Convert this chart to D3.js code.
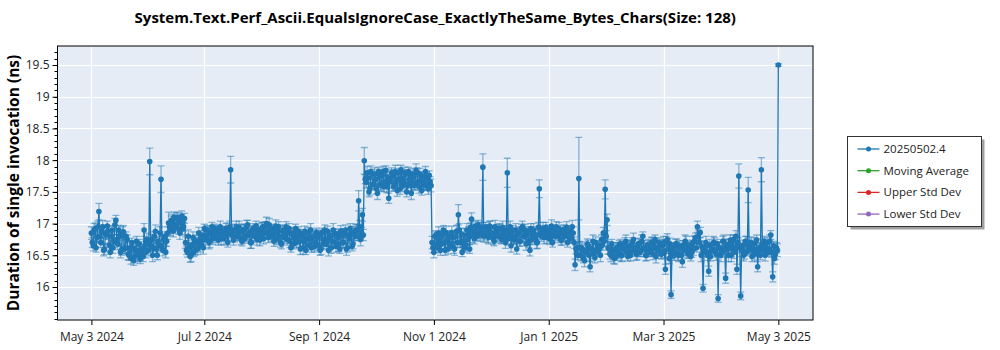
<!DOCTYPE html>
<html>
<head>
<meta charset="utf-8">
<script src="https://cdn.jsdelivr.net/npm/d3@7"></script>
<style>
  html, body { margin: 0; padding: 0; background: #ffffff; }
  svg { display: block; font-family: "Open Sans", "Noto Sans", sans-serif; }
</style>
</head>
<body>
<svg id="chart" width="1000" height="350"></svg>
<script>
// Benchmark runs: two measurements per day (morning and evening), starting May 3 2024
const chartTitle = "System.Text.Perf_Ascii.EqualsIgnoreCase_ExactlyTheSame_Bytes_Chars(Size: 128)";
const yTitle = "Duration of single invocation (ns)";
const firstDay = "2024-05-03";

// morning run: mean duration (ns), one entry per day
const durations = [
  16.85, 16.65, 16.92, 16.78, 17.19, 16.70, 16.95, 16.60, 16.82, 16.88,
  16.55, 16.90, 16.72, 17.05, 16.68, 16.80, 16.58, 16.87, 16.62, 16.75,
  16.50, 16.45, 16.62, 16.48, 16.72, 16.52, 16.44, 16.60, 16.90, 16.55,
  16.70, 17.98, 16.75, 16.62, 16.88, 16.50, 16.66, 17.70, 16.58, 16.80,
  16.72, 17.01, 16.90, 17.05, 17.10, 16.98, 17.08, 16.85, 17.12, 16.95,
  16.70, 16.55, 16.62, 16.50, 16.78, 16.58, 16.70, 16.85, 16.65, 16.75,
  16.92, 16.80, 16.88, 16.72, 16.95, 16.82, 16.78, 16.90, 16.85, 16.76,
  16.88, 16.80, 16.92, 16.84, 17.85, 16.90, 16.78, 16.95, 16.82, 16.88,
  16.72, 16.90, 16.80, 16.98, 16.85, 16.70, 16.92, 16.80, 16.75, 16.90,
  16.82, 16.95, 16.86, 17.00, 16.78, 16.90, 16.84, 16.72, 16.96, 16.88,
  16.80, 16.68, 16.90, 16.82, 16.75, 16.92, 16.62, 16.85, 16.78, 16.70,
  16.88, 16.60, 16.80, 16.72, 16.58, 16.85, 16.76, 16.62, 16.80, 16.70,
  16.66, 16.82, 16.60, 16.75, 16.90, 16.68, 16.58, 16.80, 16.72, 16.85,
  16.64, 16.78, 16.60, 16.82, 16.70, 16.90, 16.62, 16.76, 16.85, 16.68,
  16.80, 16.90, 17.36, 16.75, 17.14, 17.99, 17.65, 17.72, 17.55, 17.78,
  17.62, 17.70, 17.48, 17.75, 17.60, 17.82, 17.66, 17.58, 17.40, 17.70,
  17.76, 17.62, 17.68, 17.80, 17.55, 17.72, 17.65, 17.78, 17.60, 17.70,
  17.48, 17.74, 17.62, 17.80, 17.58, 17.68, 17.75, 17.60, 17.72, 17.55,
  17.66, 16.70, 16.55, 16.82, 16.62, 16.75, 16.68, 16.90, 16.58, 16.72,
  16.80, 16.65, 16.78, 16.60, 16.88, 17.14, 16.70, 16.55, 16.82, 16.66,
  16.75, 16.60, 17.07, 16.88, 16.96, 16.80, 16.92, 16.85, 17.89, 16.82,
  16.90, 16.78, 16.95, 16.85, 16.72, 16.88, 16.80, 16.92, 16.75, 16.86,
  16.70, 17.80, 16.82, 16.65, 16.90, 16.78, 16.60, 16.85, 16.72, 16.95,
  16.80, 16.68, 16.88, 16.58, 16.75, 16.90, 16.82, 16.70, 17.55, 16.80,
  16.92, 16.85, 16.78, 16.90, 16.82, 16.70, 16.88, 16.95, 16.80, 16.85,
  16.75, 16.90, 16.82, 16.70, 16.88, 16.78, 16.85, 16.35, 16.62, 17.71,
  16.50, 16.58, 16.42, 16.55, 16.65, 16.32, 16.60, 16.52, 16.70, 16.56,
  16.62, 16.75, 16.85, 17.54, 17.06, 16.60, 16.50, 16.58, 16.45, 16.62,
  16.55, 16.68, 16.50, 16.60, 16.72, 16.48, 16.65, 16.56, 16.75, 16.62,
  16.52, 16.68, 16.58, 16.80, 16.60, 16.50, 16.65, 16.55, 16.70, 16.62,
  16.48, 16.58, 16.65, 16.52, 16.70, 16.28, 16.75, 16.45, 15.88, 16.62,
  16.55, 16.68, 16.50, 16.62, 16.40, 16.58, 16.70, 16.52, 16.65, 16.55,
  16.60, 16.78, 16.95, 16.70, 16.50, 15.98, 16.62, 16.55, 16.25, 16.48,
  16.58, 16.70, 16.52, 15.82, 16.62, 16.55, 16.72, 16.14, 16.60, 16.68,
  16.50, 16.75, 16.62, 16.28, 17.75, 15.86, 16.65, 16.52, 16.70, 17.53,
  16.60, 16.48, 16.68, 16.55, 16.32, 16.62, 17.85, 16.58, 16.50, 16.70,
  16.60, 16.82, 16.16, 16.45, 16.62, 19.50
];

// morning run: half-width of the error bar (ns)
const errors = [
  0.10, 0.08, 0.09, 0.07, 0.13, 0.08, 0.10, 0.09, 0.07, 0.08,
  0.09, 0.07, 0.10, 0.08, 0.09, 0.07, 0.08, 0.10, 0.09, 0.07,
  0.08, 0.09, 0.07, 0.10, 0.08, 0.09, 0.07, 0.08, 0.10, 0.09,
  0.07, 0.21, 0.08, 0.09, 0.10, 0.07, 0.08, 0.21, 0.09, 0.07,
  0.08, 0.17, 0.09, 0.10, 0.08, 0.07, 0.09, 0.10, 0.08, 0.07,
  0.09, 0.08, 0.07, 0.10, 0.09, 0.08, 0.07, 0.09, 0.10, 0.08,
  0.07, 0.09, 0.08, 0.10, 0.07, 0.09, 0.08, 0.07, 0.10, 0.09,
  0.08, 0.07, 0.09, 0.10, 0.21, 0.08, 0.07, 0.09, 0.08, 0.10,
  0.07, 0.09, 0.08, 0.07, 0.10, 0.09, 0.08, 0.07, 0.09, 0.10,
  0.08, 0.07, 0.09, 0.10, 0.08, 0.07, 0.09, 0.08, 0.10, 0.07,
  0.09, 0.08, 0.07, 0.10, 0.09, 0.08, 0.07, 0.09, 0.10, 0.08,
  0.07, 0.09, 0.08, 0.10, 0.07, 0.09, 0.08, 0.07, 0.10, 0.09,
  0.08, 0.07, 0.09, 0.10, 0.08, 0.07, 0.09, 0.08, 0.10, 0.07,
  0.09, 0.08, 0.07, 0.10, 0.09, 0.08, 0.07, 0.09, 0.10, 0.08,
  0.07, 0.09, 0.16, 0.10, 0.10, 0.21, 0.09, 0.08, 0.10, 0.07,
  0.09, 0.08, 0.10, 0.07, 0.09, 0.08, 0.10, 0.09, 0.08, 0.07,
  0.09, 0.10, 0.08, 0.07, 0.09, 0.08, 0.10, 0.07, 0.09, 0.08,
  0.10, 0.07, 0.09, 0.08, 0.10, 0.09, 0.07, 0.08, 0.10, 0.09,
  0.08, 0.10, 0.09, 0.07, 0.08, 0.10, 0.09, 0.07, 0.08, 0.10,
  0.09, 0.07, 0.08, 0.10, 0.09, 0.16, 0.08, 0.07, 0.10, 0.09,
  0.08, 0.07, 0.10, 0.09, 0.08, 0.07, 0.10, 0.09, 0.21, 0.08,
  0.07, 0.10, 0.09, 0.08, 0.07, 0.10, 0.09, 0.08, 0.07, 0.10,
  0.09, 0.23, 0.08, 0.10, 0.07, 0.09, 0.08, 0.10, 0.07, 0.09,
  0.08, 0.10, 0.07, 0.09, 0.08, 0.10, 0.07, 0.09, 0.14, 0.08,
  0.10, 0.07, 0.09, 0.08, 0.10, 0.07, 0.09, 0.08, 0.10, 0.07,
  0.09, 0.08, 0.10, 0.07, 0.09, 0.08, 0.10, 0.09, 0.08, 0.65,
  0.09, 0.08, 0.10, 0.07, 0.09, 0.08, 0.10, 0.07, 0.09, 0.08,
  0.10, 0.07, 0.09, 0.15, 0.09, 0.08, 0.10, 0.07, 0.09, 0.08,
  0.10, 0.07, 0.09, 0.08, 0.10, 0.07, 0.09, 0.08, 0.10, 0.07,
  0.09, 0.08, 0.10, 0.07, 0.09, 0.08, 0.10, 0.07, 0.09, 0.08,
  0.10, 0.07, 0.09, 0.08, 0.10, 0.08, 0.09, 0.08, 0.06, 0.07,
  0.09, 0.08, 0.10, 0.07, 0.09, 0.08, 0.10, 0.07, 0.09, 0.08,
  0.10, 0.07, 0.09, 0.08, 0.10, 0.06, 0.09, 0.08, 0.08, 0.07,
  0.09, 0.08, 0.10, 0.06, 0.09, 0.08, 0.10, 0.08, 0.09, 0.08,
  0.10, 0.07, 0.09, 0.08, 0.19, 0.06, 0.09, 0.08, 0.10, 0.20,
  0.09, 0.08, 0.10, 0.07, 0.08, 0.08, 0.19, 0.07, 0.09, 0.08,
  0.10, 0.07, 0.08, 0.09, 0.08, 0.02
];

// evening run: mean duration (ns), one entry per day
const durationsB = [
  16.70, 16.90, 16.62, 16.95, 16.80, 16.88, 16.58, 16.84, 16.96, 16.66,
  16.80, 16.62, 16.98, 16.75, 16.90, 16.55, 16.85, 16.60, 16.80, 16.52,
  16.62, 16.70, 16.42, 16.58, 16.50, 16.68, 16.55, 16.48, 16.65, 16.75,
  16.58, 16.65, 16.50, 16.80, 16.60, 16.72, 16.85, 16.62, 16.75, 16.55,
  16.85, 16.95, 17.05, 16.88, 16.95, 17.10, 16.90, 17.02, 16.92, 17.08,
  16.58, 16.80, 16.48, 16.66, 16.55, 16.72, 16.60, 16.70, 16.82, 16.62,
  16.75, 16.90, 16.70, 16.85, 16.76, 16.92, 16.86, 16.74, 16.95, 16.88,
  16.76, 16.92, 16.70, 16.95, 16.82, 16.74, 16.90, 16.80, 16.94, 16.75,
  16.90, 16.76, 16.95, 16.82, 16.70, 16.90, 16.80, 16.96, 16.86, 16.74,
  16.92, 16.76, 16.96, 16.84, 16.98, 16.80, 16.92, 16.86, 16.76, 16.95,
  16.70, 16.88, 16.78, 16.95, 16.86, 16.72, 16.84, 16.68, 16.92, 16.80,
  16.72, 16.84, 16.62, 16.88, 16.76, 16.66, 16.90, 16.78, 16.64, 16.86,
  16.80, 16.58, 16.86, 16.68, 16.74, 16.88, 16.82, 16.62, 16.90, 16.70,
  16.84, 16.66, 16.88, 16.70, 16.85, 16.60, 16.82, 16.92, 16.64, 16.86,
  16.90, 16.80, 16.95, 16.86, 16.82, 17.70, 17.80, 17.50, 17.82, 17.62,
  17.78, 17.55, 17.82, 17.62, 17.76, 17.58, 17.84, 17.72, 17.66, 17.80,
  17.58, 17.82, 17.52, 17.70, 17.85, 17.60, 17.80, 17.50, 17.82, 17.66,
  17.78, 17.60, 17.84, 17.66, 17.78, 17.52, 17.64, 17.82, 17.62, 17.76,
  17.60, 16.62, 16.80, 16.68, 16.85, 16.58, 16.82, 16.70, 16.86, 16.60,
  16.68, 16.86, 16.62, 16.80, 16.70, 16.90, 16.84, 16.72, 16.62, 16.90,
  16.86, 16.94, 16.80, 16.76, 16.88, 16.98, 16.82, 16.94, 16.80, 16.95,
  16.80, 16.96, 16.84, 16.76, 16.95, 16.82, 16.92, 16.78, 16.94, 16.80,
  16.90, 16.76, 16.95, 16.82, 16.74, 16.90, 16.84, 16.72, 16.92, 16.80,
  16.90, 16.82, 16.72, 16.92, 16.86, 16.78, 16.70, 16.94, 16.84, 16.90,
  16.78, 16.94, 16.86, 16.76, 16.96, 16.88, 16.80, 16.84, 16.92, 16.74,
  16.90, 16.80, 16.94, 16.86, 16.76, 16.95, 16.70, 16.60, 16.50, 16.62,
  16.62, 16.45, 16.58, 16.68, 16.50, 16.60, 16.72, 16.46, 16.58, 16.66,
  16.50, 16.66, 16.72, 16.80, 16.62, 16.52, 16.68, 16.46, 16.60, 16.50,
  16.66, 16.50, 16.62, 16.70, 16.55, 16.64, 16.50, 16.70, 16.58, 16.52,
  16.68, 16.55, 16.72, 16.62, 16.50, 16.66, 16.58, 16.70, 16.52, 16.75,
  16.62, 16.70, 16.52, 16.66, 16.56, 16.72, 16.60, 16.68, 16.55, 16.50,
  16.68, 16.52, 16.64, 16.50, 16.66, 16.72, 16.55, 16.62, 16.48, 16.70,
  16.72, 16.62, 16.80, 16.86, 16.64, 16.55, 16.70, 16.50, 16.66, 16.60,
  16.70, 16.55, 16.68, 16.62, 16.50, 16.72, 16.60, 16.66, 16.50, 16.74,
  16.62, 16.55, 16.80, 16.70, 16.62, 16.58, 16.50, 16.72, 16.56, 16.64,
  16.70, 16.60, 16.52, 16.74, 16.60, 16.50, 16.66, 16.72, 16.62, 16.55,
  16.72, 16.55, 16.65, 16.52, 16.58
];

// evening run: half-width of the error bar (ns)
const errorsB = [
  0.08, 0.10, 0.07, 0.09, 0.08, 0.10, 0.09, 0.07, 0.08, 0.10,
  0.07, 0.09, 0.10, 0.08, 0.07, 0.09, 0.10, 0.08, 0.07, 0.09,
  0.10, 0.07, 0.08, 0.09, 0.10, 0.07, 0.09, 0.08, 0.07, 0.10,
  0.09, 0.08, 0.10, 0.07, 0.09, 0.08, 0.10, 0.07, 0.08, 0.09,
  0.10, 0.08, 0.07, 0.09, 0.10, 0.08, 0.07, 0.09, 0.10, 0.08,
  0.07, 0.10, 0.09, 0.08, 0.07, 0.10, 0.09, 0.08, 0.07, 0.10,
  0.09, 0.07, 0.10, 0.08, 0.09, 0.07, 0.10, 0.08, 0.09, 0.07,
  0.10, 0.08, 0.07, 0.09, 0.10, 0.08, 0.09, 0.07, 0.10, 0.08,
  0.09, 0.07, 0.10, 0.08, 0.09, 0.07, 0.10, 0.08, 0.07, 0.09,
  0.10, 0.08, 0.07, 0.09, 0.10, 0.08, 0.07, 0.10, 0.09, 0.08,
  0.07, 0.10, 0.09, 0.08, 0.07, 0.10, 0.09, 0.08, 0.07, 0.10,
  0.09, 0.07, 0.10, 0.08, 0.09, 0.07, 0.10, 0.08, 0.09, 0.07,
  0.10, 0.08, 0.07, 0.09, 0.10, 0.08, 0.07, 0.09, 0.10, 0.08,
  0.07, 0.10, 0.09, 0.08, 0.07, 0.10, 0.09, 0.08, 0.07, 0.10,
  0.09, 0.07, 0.10, 0.08, 0.09, 0.07, 0.10, 0.08, 0.09, 0.07,
  0.10, 0.08, 0.07, 0.09, 0.10, 0.08, 0.07, 0.09, 0.10, 0.08,
  0.07, 0.10, 0.09, 0.08, 0.07, 0.10, 0.09, 0.08, 0.07, 0.10,
  0.09, 0.07, 0.10, 0.08, 0.09, 0.07, 0.10, 0.08, 0.09, 0.07,
  0.10, 0.08, 0.07, 0.09, 0.10, 0.08, 0.07, 0.09, 0.10, 0.08,
  0.07, 0.10, 0.09, 0.08, 0.07, 0.10, 0.09, 0.08, 0.07, 0.10,
  0.09, 0.07, 0.10, 0.08, 0.09, 0.07, 0.10, 0.08, 0.09, 0.07,
  0.10, 0.08, 0.07, 0.09, 0.10, 0.08, 0.07, 0.09, 0.10, 0.08,
  0.07, 0.10, 0.09, 0.08, 0.07, 0.10, 0.09, 0.08, 0.07, 0.10,
  0.09, 0.07, 0.10, 0.08, 0.09, 0.07, 0.10, 0.08, 0.09, 0.07,
  0.10, 0.08, 0.07, 0.09, 0.10, 0.08, 0.07, 0.09, 0.10, 0.08,
  0.07, 0.10, 0.09, 0.08, 0.07, 0.10, 0.09, 0.08, 0.07, 0.10,
  0.09, 0.07, 0.10, 0.08, 0.09, 0.07, 0.10, 0.08, 0.09, 0.07,
  0.10, 0.08, 0.07, 0.09, 0.10, 0.08, 0.07, 0.09, 0.10, 0.08,
  0.07, 0.10, 0.09, 0.08, 0.07, 0.10, 0.09, 0.08, 0.07, 0.10,
  0.09, 0.07, 0.10, 0.08, 0.09, 0.07, 0.10, 0.08, 0.09, 0.07,
  0.10, 0.08, 0.07, 0.09, 0.10, 0.08, 0.07, 0.09, 0.10, 0.08,
  0.07, 0.10, 0.09, 0.08, 0.07, 0.10, 0.09, 0.08, 0.07, 0.10,
  0.09, 0.07, 0.10, 0.08, 0.09, 0.07, 0.10, 0.08, 0.09, 0.07,
  0.10, 0.08, 0.07, 0.09, 0.10, 0.08, 0.07, 0.09, 0.10, 0.08,
  0.07, 0.10, 0.09, 0.08, 0.07, 0.10, 0.09, 0.08, 0.07, 0.10,
  0.09, 0.07, 0.10, 0.08, 0.09, 0.07, 0.10, 0.08, 0.09, 0.07,
  0.10, 0.08, 0.07, 0.09, 0.10
];

const xTickDates = ["2024-05-03", "2024-07-02", "2024-09-01", "2024-11-01", "2025-01-01", "2025-03-03", "2025-05-03"];
const xTickLabels = ["May 3 2024", "Jul 2 2024", "Sep 1 2024", "Nov 1 2024", "Jan 1 2025", "Mar 3 2025", "May 3 2025"];
const yTickValues = [16, 16.5, 17, 17.5, 18, 18.5, 19, 19.5];

const legendNames = ["20250502.4", "Moving Average", "Upper Std Dev", "Lower Std Dev"];
const legendColors = ["#1f77b4", "#2ca02c", "#d62728", "#9467bd"];

const parseDay = d3.timeParse("%Y-%m-%d");
const start = parseDay(firstDay);
const morning = durations.map((v, i) => ({
  date: d3.timeDay.offset(start, i), value: v, err: errors[i]
}));
const evening = durationsB.map((v, i) => ({
  date: d3.timeHour.offset(d3.timeDay.offset(start, i), 12), value: v, err: errorsB[i]
}));
const points = morning.concat(evening).sort((a, b) => a.date - b.date);

const svg = d3.select("#chart");
const plot = { left: 57.5, right: 813, top: 46, bottom: 320 };

const x = d3.scaleTime()
  .domain([new Date(2024, 3, 15), new Date(2025, 4, 21, 10)])
  .range([plot.left, plot.right]);
const y = d3.scaleLinear()
  .domain([15.48, 19.8])
  .range([plot.bottom, plot.top]);

// plot background
svg.append("rect")
  .attr("x", plot.left).attr("y", plot.top)
  .attr("width", plot.right - plot.left).attr("height", plot.bottom - plot.top)
  .attr("fill", "#e5ecf6");

// grid lines
const grid = svg.append("g").attr("stroke", "#ffffff").attr("stroke-width", 1.2);
xTickDates.forEach(d => {
  const gx = Math.round(x(parseDay(d))) + 0.5;
  grid.append("line").attr("x1", gx).attr("x2", gx).attr("y1", plot.top).attr("y2", plot.bottom);
});
yTickValues.forEach(v => {
  const gy = Math.round(y(v)) + 0.5;
  grid.append("line").attr("x1", plot.left).attr("x2", plot.right).attr("y1", gy).attr("y2", gy);
});

svg.append("clipPath").attr("id", "plotclip")
  .append("rect").attr("x", plot.left).attr("y", plot.top)
  .attr("width", plot.right - plot.left).attr("height", plot.bottom - plot.top);

const data = svg.append("g").attr("clip-path", "url(#plotclip)");
const blue = "#1f77b4";

// error bars
const eb = data.append("g").attr("stroke", blue).attr("stroke-opacity", 0.5).attr("stroke-width", 1.3);
points.forEach(p => {
  const px = x(p.date);
  const y0 = y(p.value - p.err), y1 = y(p.value + p.err);
  eb.append("line").attr("x1", px).attr("x2", px).attr("y1", y0).attr("y2", y1);
  eb.append("line").attr("x1", px - 3.5).attr("x2", px + 3.5).attr("y1", y0).attr("y2", y0);
  eb.append("line").attr("x1", px - 3.5).attr("x2", px + 3.5).attr("y1", y1).attr("y2", y1);
});

// connecting line
data.append("path")
  .datum(points)
  .attr("fill", "none")
  .attr("stroke", blue)
  .attr("stroke-width", 1.3)
  .attr("d", d3.line().x(p => x(p.date)).y(p => y(p.value)));

// markers
data.append("g").selectAll("circle")
  .data(points).join("circle")
  .attr("cx", p => x(p.date))
  .attr("cy", p => y(p.value))
  .attr("r", 2.8)
  .attr("fill", blue);

// frame
svg.append("rect")
  .attr("x", plot.left).attr("y", plot.top)
  .attr("width", plot.right - plot.left).attr("height", plot.bottom - plot.top)
  .attr("fill", "none").attr("stroke", "#000").attr("stroke-width", 1);

// x axis
const xAxis = d3.axisBottom(x)
  .tickValues(xTickDates.map(parseDay))
  .tickFormat((d, i) => xTickLabels[i])
  .tickSize(5).tickSizeOuter(0);
const gx = svg.append("g").attr("transform", `translate(0,${plot.bottom})`).call(xAxis);
gx.select(".domain").remove();
gx.selectAll("text").attr("font-size", 12).attr("fill", "#222").attr("dy", "1.05em").attr("font-family", "Open Sans, Noto Sans, sans-serif");

// y axis: major ticks with labels, minor ticks every 0.1
const yAxis = d3.axisLeft(y).tickValues(yTickValues).tickFormat(d3.format("")).tickSize(5).tickSizeOuter(0);
const gy = svg.append("g").attr("transform", `translate(${plot.left},0)`).call(yAxis);
gy.select(".domain").remove();
gy.selectAll("text").attr("font-size", 12).attr("fill", "#222").attr("font-family", "Open Sans, Noto Sans, sans-serif");
const minor = d3.range(155, 198).map(v => v / 10);
svg.append("g").selectAll("line").data(minor).join("line")
  .attr("x1", plot.left - 3).attr("x2", plot.left)
  .attr("y1", v => Math.round(y(v)) + 0.5).attr("y2", v => Math.round(y(v)) + 0.5)
  .attr("stroke", "#000");

// titles
svg.append("text")
  .attr("x", (plot.left + plot.right) / 2).attr("y", 23)
  .attr("text-anchor", "middle").attr("font-weight", "bold").attr("font-size", 15)
  .attr("fill", "#000").text(chartTitle);
svg.append("text")
  .attr("transform", `translate(19,${(plot.top + plot.bottom) / 2}) rotate(-90)`)
  .attr("text-anchor", "middle").attr("font-weight", "bold").attr("font-size", 15.5)
  .attr("fill", "#000").text(yTitle);

// legend
const lg = svg.append("g").attr("transform", "translate(847.5,136.5)");
lg.append("rect").attr("x", 3).attr("y", 3).attr("width", 134).attr("height", 90).attr("fill", "#a0a0a0");
lg.append("rect").attr("width", 134).attr("height", 90).attr("fill", "#fff").attr("stroke", "#333");
legendNames.forEach((name, i) => {
  const ly = 12.5 + i * 21.7;
  lg.append("line").attr("x1", 10).attr("x2", 32).attr("y1", ly).attr("y2", ly)
    .attr("stroke", legendColors[i]).attr("stroke-width", 1.3);
  lg.append("circle").attr("cx", 21).attr("cy", ly).attr("r", 2.5).attr("fill", legendColors[i]);
  lg.append("text").attr("x", 36).attr("y", ly).attr("dy", "0.35em")
    .attr("font-size", 11.5).attr("fill", "#222").text(name);
});
</script>
</body>
</html>
